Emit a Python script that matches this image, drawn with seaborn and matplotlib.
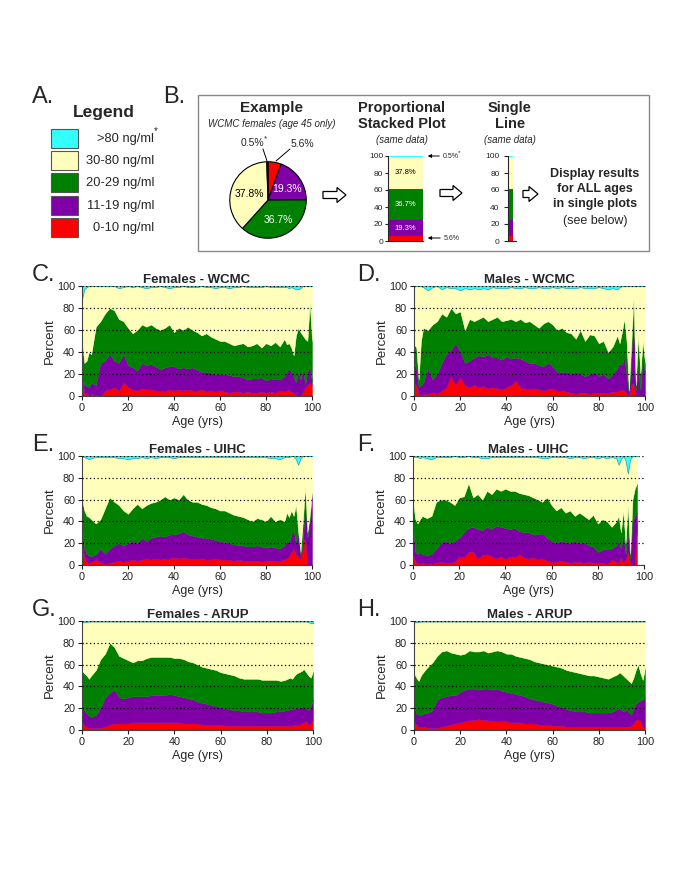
import numpy as np
import matplotlib
matplotlib.use('Agg')
import matplotlib.pyplot as plt
import matplotlib.patches as mpatches
import seaborn as sns

# ---- data -------------------------------------------------------------
AGES = [0, 1, 2, 3, 4, 6, 8, 10, 12, 14, 16, 18, 20, 22, 24, 26, 28, 30, 32, 34,
        36, 38, 40, 42, 44, 46, 48, 50, 52, 54, 56, 58, 60, 62, 64, 66, 68, 70, 72,
        74, 76, 78, 80, 82, 84, 86, 88, 89, 90, 91, 92, 93, 94, 95, 96, 97, 98, 99, 100]

LEGEND_LABELS = ['>80 ng/ml', '30-80 ng/ml', '20-29 ng/ml', '11-19 ng/ml', '0-10 ng/ml']

# example: WCMC females, age 45 (red, purple, green, yellow, cyan)
EX_PCT = [5.6, 19.3, 36.7, 37.8, 0.5]

# cumulative upper edges: red (0-10), purple (<=19), green (<=29); cyan = % >80
fw_red = [20, 2, 3, 0, 2, 1, 0, 5, 6, 8, 5, 12, 8, 6, 5, 7, 6, 6, 5, 5, 4, 6, 5, 6, 5, 6, 5, 5, 6,
          4, 5, 4, 5, 4, 3, 4, 4, 3, 4, 3, 3, 4, 3, 4, 3, 5, 4, 5, 6, 4, 3, 2, 0, 0, 4, 8, 10, 12, 10]
fw_purple = [25, 10, 9, 8, 12, 10, 30, 32, 38, 32, 30, 38, 28, 26, 23, 30, 28, 29, 27, 24, 26, 27,
             27, 25, 26, 25, 26, 24, 22, 22, 21, 20, 20, 20, 19, 18, 18, 17, 15, 16, 16, 17, 14, 16,
             15, 15, 18, 22, 25, 22, 18, 12, 22, 15, 25, 10, 22, 28, 12]
fw_green = [50, 30, 32, 40, 38, 63, 68, 75, 80, 78, 70, 68, 62, 57, 60, 65, 63, 65, 62, 60, 62, 65,
            58, 62, 60, 63, 60, 58, 55, 57, 54, 52, 50, 50, 48, 46, 47, 48, 45, 46, 48, 44, 48, 46,
            49, 45, 52, 47, 48, 44, 37, 55, 62, 58, 55, 52, 50, 85, 50]
fw_cyan = [12, 3, 1, 0, 0, 0, 0, 0, 0, 0, 2, 1, 0, 1, 0, 1, 2, 1, 1, 0, 1, 2, 1, 1, 0, 1, 1, 1, 0,
           1, 1, 2, 1, 1, 2, 1, 1, 0, 1, 1, 1, 1, 0, 1, 1, 1, 1, 1, 2, 1, 2, 3, 3, 2, 0, 0, 0, 0, 0]

mw_red = [12, 10, 2, 1, 2, 2, 3, 2, 5, 8, 18, 10, 17, 10, 8, 10, 8, 9, 7, 8, 7, 6, 8, 10, 14, 8, 7,
          6, 7, 6, 5, 6, 7, 5, 5, 4, 3, 2, 3, 3, 2, 3, 3, 3, 3, 4, 4, 5, 6, 5, 3, 0, 10, 12, 0, 0, 0, 0, 0]
mw_purple = [30, 25, 8, 10, 12, 25, 15, 20, 30, 38, 42, 48, 40, 30, 32, 35, 37, 36, 38, 35, 35, 33,
             36, 34, 35, 34, 32, 30, 30, 28, 27, 30, 27, 22, 22, 22, 20, 22, 20, 18, 20, 22, 18, 20,
             16, 20, 25, 30, 28, 35, 20, 2, 30, 85, 5, 25, 5, 35, 20]
mw_green = [47, 44, 15, 50, 62, 60, 65, 68, 75, 72, 80, 75, 77, 60, 70, 68, 70, 72, 68, 70, 72, 68,
            69, 70, 68, 70, 67, 68, 65, 62, 66, 68, 65, 60, 62, 58, 57, 52, 60, 50, 56, 55, 48, 50,
            40, 45, 55, 48, 58, 70, 50, 5, 45, 89, 10, 55, 20, 50, 30]
mw_cyan = [0, 0, 0, 0, 1, 4, 1, 0, 3, 1, 2, 2, 4, 2, 3, 2, 3, 2, 3, 1, 2, 2, 2, 1, 2, 2, 1, 2, 2,
           1, 2, 2, 1, 2, 1, 2, 2, 2, 1, 2, 2, 2, 1, 2, 3, 2, 3, 1, 0, 0, 0, 0, 0, 0, 0, 0, 0, 0, 0]

fu_red = [18, 8, 3, 2, 3, 5, 2, 1, 2, 3, 4, 3, 4, 5, 4, 5, 6, 5, 6, 5, 6, 6, 7, 6, 7, 6, 6, 6, 6,
          5, 5, 6, 5, 5, 5, 4, 5, 4, 4, 4, 4, 3, 4, 4, 4, 4, 5, 6, 8, 12, 15, 10, 8, 5, 20, 25, 0, 0, 0]
fu_purple = [35, 15, 10, 9, 8, 10, 15, 10, 15, 18, 20, 18, 20, 22, 20, 25, 22, 25, 26, 27, 26, 28,
             28, 29, 31, 28, 27, 26, 25, 25, 24, 23, 22, 21, 20, 19, 18, 18, 17, 17, 18, 17, 16, 17,
             16, 15, 18, 22, 20, 28, 32, 20, 30, 8, 20, 60, 25, 40, 66]
fu_green = [60, 50, 45, 44, 42, 38, 42, 52, 62, 58, 55, 50, 47, 52, 56, 52, 55, 57, 58, 60, 63, 60,
            62, 60, 65, 60, 58, 58, 56, 55, 53, 52, 50, 50, 48, 46, 45, 44, 42, 40, 43, 42, 40, 45,
            40, 42, 40, 48, 44, 50, 45, 55, 30, 12, 40, 72, 30, 45, 66]
fu_cyan = [0, 1, 2, 3, 2, 1, 1, 1, 1, 1, 2, 2, 3, 2, 2, 1, 2, 1, 2, 1, 1, 1, 2, 1, 1, 1, 1, 1, 1,
           1, 1, 1, 1, 1, 1, 1, 1, 1, 1, 1, 1, 1, 1, 2, 2, 3, 1, 1, 1, 0, 0, 3, 8, 2, 0, 0, 0, 0, 0]

nan = np.nan
mu_red = [10, 3, 2, 1, 2, 1, 1, 2, 3, 2, 2, 3, 8, 7, 12, 12, 6, 9, 10, 8, 6, 8, 5, 8, 7, 10, 7, 6,
          7, 5, 6, 4, 3, 3, 4, 3, 2, 3, 3, 2, 3, 2, 2, 2, 1, 5, 3, 2, 8, 2, 5, 12, 3, 0, 0, 40, nan, nan, nan]
mu_purple = [35, 12, 10, 12, 10, 9, 10, 15, 20, 22, 20, 22, 25, 30, 34, 35, 33, 32, 35, 33, 36, 35,
             34, 33, 34, 31, 30, 30, 28, 28, 29, 25, 22, 20, 22, 21, 20, 22, 20, 21, 18, 17, 12, 14,
             15, 15, 18, 22, 15, 28, 10, 30, 5, 40, 45, 48, nan, nan, nan]
mu_green = [58, 42, 38, 42, 45, 43, 45, 58, 60, 60, 58, 55, 62, 63, 75, 62, 65, 60, 68, 65, 70, 68,
            70, 68, 68, 66, 65, 64, 62, 60, 58, 62, 55, 50, 53, 48, 50, 45, 48, 45, 42, 46, 38, 42,
            40, 35, 40, 45, 30, 50, 20, 55, 10, 60, 70, 75, nan, nan, nan]
mu_cyan = [0, 1, 1, 2, 1, 2, 3, 1, 1, 1, 1, 0, 1, 1, 0, 1, 1, 2, 2, 1, 1, 1, 1, 1, 1, 1, 1, 1, 1,
           1, 2, 2, 1, 1, 1, 1, 2, 1, 1, 2, 1, 1, 2, 1, 2, 1, 2, 8, 3, 0, 4, 16, 3, 0, 0, 0, nan, nan, nan]

fa_red = [8, 4, 3, 2, 2, 2, 2, 3, 5, 6, 6, 6, 6, 7, 7, 7, 7, 7, 7, 7, 7, 7, 7, 7, 6, 6, 6, 6, 5,
          5, 5, 5, 5, 4, 4, 4, 4, 4, 4, 4, 4, 4, 4, 4, 4, 4, 4, 4, 4, 4, 5, 5, 5, 6, 7, 8, 5, 6, 10]
fa_purple = [22, 18, 15, 13, 12, 14, 20, 30, 34, 37, 30, 29, 30, 31, 31, 31, 31, 32, 32, 32, 32, 33,
             32, 31, 30, 29, 28, 26, 25, 24, 23, 22, 21, 20, 19, 18, 18, 17, 17, 17, 17, 16, 16, 16,
             17, 17, 18, 18, 19, 19, 20, 21, 20, 21, 22, 20, 18, 22, 28]
fa_green = [54, 52, 50, 47, 50, 55, 65, 70, 80, 76, 68, 66, 64, 62, 64, 64, 66, 67, 67, 67, 67, 67,
            66, 66, 65, 63, 62, 60, 58, 57, 56, 55, 53, 52, 51, 50, 48, 47, 47, 47, 47, 46, 46, 46,
            46, 45, 46, 47, 48, 47, 50, 52, 53, 54, 56, 53, 50, 48, 54]
fa_cyan = [1.5, 1, 1, 0.5, 0.5, 0.5, 0.5, 0.5, 0.5, 0.5, 0.5, 0.5, 0.5, 0.5, 0.5, 0.5, 0.5, 0.5,
           0.5, 0.5, 0.5, 0.5, 0.5, 0.5, 0.5, 0.5, 0.5, 0.5, 0.5, 0.5, 0.5, 0.5, 0.5, 0.5, 0.5,
           0.5, 0.5, 0.5, 0.5, 0.5, 0.5, 0.5, 0.5, 0.5, 0.5, 0.5, 0.5, 0.5, 0.5, 0.5, 0.5, 0.5,
           0.5, 0.5, 0.5, 0.5, 1, 2, 2]

ma_red = [7, 5, 3, 3, 3, 2, 2, 2, 3, 4, 5, 6, 7, 8, 9, 9, 10, 9, 9, 8, 8, 8, 8, 7, 7, 7, 6, 6, 6,
          5, 5, 5, 4, 4, 4, 3, 3, 3, 3, 3, 3, 3, 3, 3, 3, 3, 3, 3, 3, 3, 3, 3, 4, 6, 9, 10, 8, 3, 2]
ma_purple = [22, 15, 14, 14, 15, 16, 18, 28, 30, 31, 32, 32, 35, 37, 38, 38, 37, 38, 38, 37, 38, 36,
             35, 34, 33, 32, 31, 29, 28, 27, 26, 25, 24, 22, 21, 19, 18, 17, 17, 17, 16, 16, 16, 16,
             16, 17, 19, 20, 18, 17, 19, 16, 14, 20, 24, 26, 27, 28, 29]
ma_green = [52, 48, 45, 50, 53, 58, 62, 68, 72, 73, 71, 70, 69, 70, 73, 72, 72, 73, 71, 72, 73, 72,
            70, 70, 68, 67, 66, 65, 63, 62, 61, 60, 59, 58, 57, 55, 54, 53, 52, 51, 50, 50, 49, 48,
            47, 49, 51, 53, 51, 49, 47, 45, 43, 48, 55, 60, 52, 46, 57]
ma_cyan = [1.5, 1, 1, 0.5, 0.5, 0.5, 0.5, 0.5, 0.5, 0.5, 0.5, 0.5, 0.5, 0.5, 0.5, 0.5, 0.5, 0.5,
           0.5, 0.5, 0.5, 0.5, 0.5, 0.5, 0.5, 0.5, 0.5, 0.5, 0.5, 0.5, 0.5, 0.5, 0.5, 0.5, 0.5,
           0.5, 0.5, 0.5, 0.5, 0.5, 0.5, 0.5, 0.5, 0.5, 0.5, 0.5, 0.5, 0.5, 0.5, 0.5, 0.5, 0.5,
           0.5, 0.5, 0.5, 0.5, 0.5, 0.5, 0.5]

# ---- style ------------------------------------------------------------
sns.set_style('ticks')
plt.rcParams['font.family'] = ['Liberation Sans', 'DejaVu Sans']

C_CYAN, C_YELLOW, C_GREEN, C_PURPLE, C_RED = sns.color_palette(
    ['#33FFFF', '#FFFFBB', '#008000', '#8000A8', '#FF0000'])
LEG_COLORS = [C_CYAN, C_YELLOW, C_GREEN, C_PURPLE, C_RED]

W, H = 685, 889
fig = plt.figure(figsize=(W / 100, H / 100), dpi=100)


def px_axes(l, t, r, b):
    # axes placed with pixel edges (from top-left)
    return fig.add_axes([l / W, 1 - b / H, (r - l) / W, (b - t) / H])


# overlay for free text / boxes, in pixel units (drawn on top of everything)
ov = fig.add_axes([0, 0, 1, 1])
ov.set_xlim(0, W)
ov.set_ylim(H, 0)
ov.axis('off')
ov.set_zorder(5)

# ---- A. legend --------------------------------------------------------
ov.text(32, 97, 'A.', fontsize=17, ha='left', va='center')
ov.text(104, 113, 'Legend', fontsize=12.5, fontweight='bold', ha='center', va='center')
for i, (lab, col) in enumerate(zip(LEGEND_LABELS, LEG_COLORS)):
    top = 129 + i * 22.2
    ov.add_patch(mpatches.Rectangle((51, top), 27, 19, fc=col, ec='#555555', lw=0.8))
    ov.text(154, top + 10, lab, fontsize=9.3, ha='right', va='center')
ov.text(154, 131, '*', fontsize=7, ha='left', va='center')

# ---- B. explanation box -----------------------------------------------
ov.text(163, 97, 'B.', fontsize=17, ha='left', va='center')
ov.add_patch(mpatches.Rectangle((198, 95), 451, 156, fc='none', ec='#888888', lw=1))

ov.text(272, 108, 'Example', fontsize=11, fontweight='bold', ha='center', va='center')
ov.text(272, 124, 'WCMC females (age 45 only)', fontsize=7, style='italic', ha='center', va='center')

ax_pie = px_axes(229, 161, 307, 239)
ax_pie.pie(EX_PCT, colors=[C_RED, C_PURPLE, C_GREEN, C_YELLOW, C_CYAN], startangle=90,
           counterclock=False, wedgeprops=dict(edgecolor='black', linewidth=0.8))
ax_pie.set_xlim(-1.02, 1.02)
ax_pie.set_ylim(-1.02, 1.02)
ax_pie.patch.set_visible(False)

ov.text(249, 194, f'{EX_PCT[3]}%', fontsize=7.5, ha='center', va='center', color='black')
ov.text(287, 189, f'{EX_PCT[1]}%', fontsize=7.5, ha='center', va='center', color='white')
ov.text(278, 220, f'{EX_PCT[2]}%', fontsize=7.5, ha='center', va='center', color='white')
ov.text(252, 143, f'{EX_PCT[4]}%', fontsize=7.5, ha='center', va='center')
ov.text(264, 139, '*', fontsize=6, ha='left', va='center')
ov.text(302, 144, f'{EX_PCT[0]}%', fontsize=7.5, ha='center', va='center')
ov.plot([263, 267], [149, 161], color='black', lw=0.7)
ov.plot([290, 276], [149, 161], color='black', lw=0.7)


def block_arrow(x0, x1, y):
    ov.add_patch(mpatches.FancyArrow(x0, y, x1 - x0, 0, width=7, head_width=15, head_length=9,
                                     length_includes_head=True, fc='white', ec='black', lw=0.9))


block_arrow(323, 346, 195)
block_arrow(440, 462, 193)
block_arrow(523, 538, 194)

# proportional stacked plot
ov.text(402, 116, 'Proportional\nStacked Plot', fontsize=10.5, fontweight='bold',
        ha='center', va='center', linespacing=1.15)
ov.text(402, 140, '(same data)', fontsize=7, style='italic', ha='center', va='center')
ax_bar = px_axes(388, 156, 423, 241)
stack_order = [0, 1, 2, 3, 4]
stack_cols = [C_RED, C_PURPLE, C_GREEN, C_YELLOW, C_CYAN]
bottom = 0
for k in stack_order:
    ax_bar.bar(0.5, EX_PCT[k], bottom=bottom, width=1, color=stack_cols[k], lw=0)
    if k in (1, 2, 3):
        ax_bar.text(0.5, bottom + EX_PCT[k] / 2, f'{EX_PCT[k]}%', fontsize=5.5, ha='center',
                    va='center', color='black' if k == 3 else 'white')
    bottom += EX_PCT[k]
ax_bar.set_xlim(0, 1)
ax_bar.set_ylim(0, 100)
ax_bar.set_yticks([0, 20, 40, 60, 80, 100])
ax_bar.set_xticks([])
ax_bar.tick_params(axis='y', labelsize=6, length=2, pad=1.5)
ax_bar.patch.set_visible(False)
sns.despine(ax=ax_bar)
ov.annotate('', xy=(425, 156), xytext=(442, 156),
            arrowprops=dict(arrowstyle='-|>', color='black', lw=0.7, mutation_scale=5))
ov.text(443, 156, f'{EX_PCT[4]}%', fontsize=5, ha='left', va='center')
ov.text(458, 153, '*', fontsize=4.5, ha='left', va='center')
ov.annotate('', xy=(425, 238), xytext=(443, 238),
            arrowprops=dict(arrowstyle='-|>', color='black', lw=0.7, mutation_scale=5))
ov.text(444, 238, f'{EX_PCT[0]}%', fontsize=5, ha='left', va='center')

# single line
ov.text(510, 116, 'Single\nLine', fontsize=10.5, fontweight='bold', ha='center', va='center',
        linespacing=1.15)
ov.text(510, 140, '(same data)', fontsize=7, style='italic', ha='center', va='center')
ax_line = px_axes(508, 156, 516, 241)
bottom = 0
for k in stack_order:
    ax_line.bar(0.375, EX_PCT[k], bottom=bottom, width=0.5, color=stack_cols[k], lw=0)
    bottom += EX_PCT[k]
ax_line.set_xlim(0, 1)
ax_line.set_ylim(0, 100)
ax_line.set_yticks([0, 20, 40, 60, 80, 100])
ax_line.set_xticks([])
ax_line.tick_params(axis='y', labelsize=6, length=3, pad=3)
ax_line.patch.set_visible(False)
sns.despine(ax=ax_line)

ov.text(595, 189, 'Display results\nfor ALL ages\nin single plots', fontsize=9,
        fontweight='bold', ha='center', va='center', linespacing=1.3)
ov.text(595, 221, '(see below)', fontsize=9, ha='center', va='center')

# ---- C-H. stacked area panels ----------------------------------------


def draw_panel(ax, title, red, purple, green, cyan):
    red, purple, green, cyan = (np.asarray(v, dtype=float) for v in (red, purple, green, cyan))
    top = 100 - cyan
    ax.fill_between(AGES, 0, red, fc=C_RED, ec=C_RED, lw=0.3)
    ax.fill_between(AGES, red, purple, fc=C_PURPLE, ec=C_PURPLE, lw=0.3)
    ax.fill_between(AGES, purple, green, fc=C_GREEN, ec=C_GREEN, lw=0.3)
    ax.fill_between(AGES, green, top, fc=C_YELLOW, ec=C_YELLOW, lw=0.3)
    ax.fill_between(AGES, top, 100, fc=C_CYAN, ec='#2a9d9d', lw=0.5)
    ax.set_xlim(0, 100)
    ax.set_ylim(0, 100)
    ax.set_xticks([0, 20, 40, 60, 80, 100])
    ax.set_yticks([0, 20, 40, 60, 80, 100])
    ax.grid(axis='y', linestyle=(0, (1, 2)), color='black', lw=0.9)
    ax.set_axisbelow(False)
    ax.tick_params(labelsize=7.8, length=3, width=0.8, pad=2, colors='#222222')
    for s in ('left', 'bottom'):
        ax.spines[s].set_color('#444444')
        ax.spines[s].set_linewidth(0.8)
    sns.despine(ax=ax)
    ax.set_title(title, fontsize=9.5, fontweight='bold', pad=2.5)
    ax.set_ylabel('Percent', fontsize=9.5, labelpad=0.5)
    ax.set_xlabel('Age (yrs)', fontsize=9, labelpad=2)


panels = [
    ('C.', 'Females - WCMC', (82, 286, 312, 396), fw_red, fw_purple, fw_green, fw_cyan),
    ('D.', 'Males - WCMC', (414, 286, 645, 396), mw_red, mw_purple, mw_green, mw_cyan),
    ('E.', 'Females - UIHC', (82, 456, 312, 565), fu_red, fu_purple, fu_green, fu_cyan),
    ('F.', 'Males - UIHC', (413, 456, 644, 565), mu_red, mu_purple, mu_green, mu_cyan),
    ('G.', 'Females - ARUP', (82, 621, 313, 730), fa_red, fa_purple, fa_green, fa_cyan),
    ('H.', 'Males - ARUP', (414, 621, 645, 730), ma_red, ma_purple, ma_green, ma_cyan),
]
for letter, title, box, r, p, g, c in panels:
    ax = px_axes(*box)
    draw_panel(ax, title, r, p, g, c)
    lx = 32 if box[0] < 300 else 357
    ov.text(lx, box[1] - 11, letter, fontsize=17, ha='left', va='center')

fig.savefig('out.png', dpi=100)
